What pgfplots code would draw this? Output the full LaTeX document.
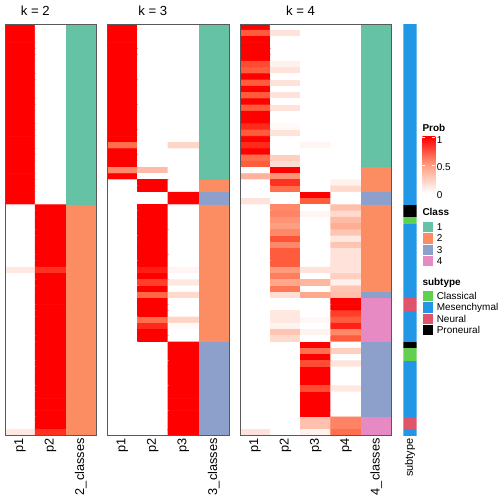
\documentclass[border=0pt]{standalone}
\usepackage{fontspec}
\setmainfont{Liberation Sans}
\usepackage{pgfplots}
\pgfplotsset{compat=1.18}
\definecolor{clsA}{HTML}{66C2A5}
\definecolor{clsB}{HTML}{FC8D62}
\definecolor{clsC}{HTML}{8DA0CB}
\definecolor{clsD}{HTML}{E78AC3}
\definecolor{stCla}{HTML}{61D04F}
\definecolor{stMes}{HTML}{2297E6}
\definecolor{stNeu}{HTML}{DF536B}
\definecolor{stPro}{HTML}{000000}
\definecolor{probmid}{RGB}{255,158,129}
\pgfplotsset{
  hm/.style={
    scale only axis, anchor=north west,
    height=411.7bp,
    ymin=-65.5, ymax=0.5, xmin=-0.5,
    axis on top,
    axis line style={draw=black!65, line width=0.75bp},
    ytick=\empty,
    major tick length=0pt,
    xticklabel style={rotate=90, anchor=east, inner sep=2.5bp, font=\fontsize{12.8}{14}\selectfont},
    colormap={wr}{rgb255=(255,255,255) rgb255=(255,207,191) rgb255=(255,158,129) rgb255=(255,104,70) rgb255=(255,0,0)},
    point meta min=0, point meta max=1,
    title style={anchor=south, inner sep=0pt, yshift=2bp, font=\fontsize{13.2}{15}\selectfont},
  },
  seg/.style={draw=none, fill=#1, mark=none, forget plot},
  heatcells/.style={matrix plot*, shader=faceted, faceted color=mapped color, line width=0.9bp, point meta=explicit},
}
\begin{document}
\begin{tikzpicture}
\path[use as bounding box] (0,0) rectangle (504bp,-504bp);

% ---------------- k = 2 ----------------
\begin{axis}[hm, at={(5bp,-24bp)}, width=91bp, xmax=2.5,
  xtick={0,1,2}, xticklabels={p1,p2,2\_classes},
  title={k = 2}, title style={at={(axis description cs:0.3333,1)}}]
\addplot[heatcells, mesh/cols=2] coordinates {
(0,0)[1] (1,0)[0]
(0,-1)[1] (1,-1)[0]
(0,-2)[1] (1,-2)[0]
(0,-3)[1] (1,-3)[0]
(0,-4)[1] (1,-4)[0]
(0,-5)[1] (1,-5)[0]
(0,-6)[1] (1,-6)[0]
(0,-7)[1] (1,-7)[0]
(0,-8)[1] (1,-8)[0]
(0,-9)[1] (1,-9)[0]
(0,-10)[1] (1,-10)[0]
(0,-11)[1] (1,-11)[0]
(0,-12)[1] (1,-12)[0]
(0,-13)[1] (1,-13)[0]
(0,-14)[1] (1,-14)[0]
(0,-15)[1] (1,-15)[0]
(0,-16)[1] (1,-16)[0]
(0,-17)[1] (1,-17)[0]
(0,-18)[1] (1,-18)[0]
(0,-19)[1] (1,-19)[0]
(0,-20)[1] (1,-20)[0]
(0,-21)[1] (1,-21)[0]
(0,-22)[1] (1,-22)[0]
(0,-23)[1] (1,-23)[0]
(0,-24)[1] (1,-24)[0]
(0,-25)[1] (1,-25)[0]
(0,-26)[1] (1,-26)[0]
(0,-27)[1] (1,-27)[0]
(0,-28)[1] (1,-28)[0]
(0,-29)[0] (1,-29)[1]
(0,-30)[0] (1,-30)[1]
(0,-31)[0] (1,-31)[1]
(0,-32)[0] (1,-32)[1]
(0,-33)[0] (1,-33)[1]
(0,-34)[0] (1,-34)[1]
(0,-35)[0] (1,-35)[1]
(0,-36)[0] (1,-36)[1]
(0,-37)[0] (1,-37)[1]
(0,-38)[0] (1,-38)[1]
(0,-39)[0.12] (1,-39)[0.88]
(0,-40)[0] (1,-40)[1]
(0,-41)[0] (1,-41)[1]
(0,-42)[0] (1,-42)[1]
(0,-43)[0] (1,-43)[1]
(0,-44)[0] (1,-44)[1]
(0,-45)[0] (1,-45)[1]
(0,-46)[0] (1,-46)[1]
(0,-47)[0] (1,-47)[1]
(0,-48)[0] (1,-48)[1]
(0,-49)[0] (1,-49)[1]
(0,-50)[0] (1,-50)[1]
(0,-51)[0] (1,-51)[1]
(0,-52)[0] (1,-52)[1]
(0,-53)[0] (1,-53)[1]
(0,-54)[0] (1,-54)[1]
(0,-55)[0] (1,-55)[1]
(0,-56)[0] (1,-56)[1]
(0,-57)[0] (1,-57)[1]
(0,-58)[0] (1,-58)[1]
(0,-59)[0] (1,-59)[1]
(0,-60)[0] (1,-60)[1]
(0,-61)[0] (1,-61)[1]
(0,-62)[0] (1,-62)[1]
(0,-63)[0] (1,-63)[1]
(0,-64)[0] (1,-64)[1]
(0,-65)[0.12] (1,-65)[0.88]
};
\addplot[seg=clsA] coordinates {(1.5,0.5) (2.5,0.5) (2.5,-28.5) (1.5,-28.5)} -- cycle;
\addplot[seg=clsB] coordinates {(1.5,-28.5) (2.5,-28.5) (2.5,-65.5) (1.5,-65.5)} -- cycle;
\end{axis}

% ---------------- k = 3 ----------------
\begin{axis}[hm, at={(107bp,-24bp)}, width=122bp, xmax=3.5,
  xtick={0,1,2,3}, xticklabels={p1,p2,p3,3\_classes},
  title={k = 3}, title style={at={(axis description cs:0.375,1)}}]
\addplot[heatcells, mesh/cols=3] coordinates {
(0,0)[1] (1,0)[0] (2,0)[0]
(0,-1)[1] (1,-1)[0] (2,-1)[0]
(0,-2)[1] (1,-2)[0] (2,-2)[0]
(0,-3)[1] (1,-3)[0] (2,-3)[0]
(0,-4)[1] (1,-4)[0] (2,-4)[0]
(0,-5)[1] (1,-5)[0] (2,-5)[0]
(0,-6)[1] (1,-6)[0] (2,-6)[0]
(0,-7)[1] (1,-7)[0] (2,-7)[0]
(0,-8)[1] (1,-8)[0] (2,-8)[0]
(0,-9)[1] (1,-9)[0] (2,-9)[0]
(0,-10)[1] (1,-10)[0] (2,-10)[0]
(0,-11)[1] (1,-11)[0] (2,-11)[0]
(0,-12)[1] (1,-12)[0] (2,-12)[0]
(0,-13)[1] (1,-13)[0] (2,-13)[0]
(0,-14)[1] (1,-14)[0] (2,-14)[0]
(0,-15)[1] (1,-15)[0] (2,-15)[0]
(0,-16)[1] (1,-16)[0] (2,-16)[0]
(0,-17)[1] (1,-17)[0] (2,-17)[0]
(0,-18)[1] (1,-18)[0] (2,-18)[0]
(0,-19)[0.72] (1,-19)[0] (2,-19)[0.22]
(0,-20)[1] (1,-20)[0] (2,-20)[0]
(0,-21)[1] (1,-21)[0] (2,-21)[0]
(0,-22)[1] (1,-22)[0] (2,-22)[0]
(0,-23)[0.6] (1,-23)[0.35] (2,-23)[0]
(0,-24)[1] (1,-24)[0] (2,-24)[0]
(0,-25)[0] (1,-25)[1] (2,-25)[0]
(0,-26)[0] (1,-26)[1] (2,-26)[0]
(0,-27)[0] (1,-27)[0] (2,-27)[1]
(0,-28)[0] (1,-28)[0] (2,-28)[1]
(0,-29)[0] (1,-29)[1] (2,-29)[0]
(0,-30)[0] (1,-30)[1] (2,-30)[0]
(0,-31)[0] (1,-31)[1] (2,-31)[0]
(0,-32)[0] (1,-32)[1] (2,-32)[0]
(0,-33)[0] (1,-33)[1] (2,-33)[0]
(0,-34)[0] (1,-34)[1] (2,-34)[0]
(0,-35)[0] (1,-35)[1] (2,-35)[0]
(0,-36)[0] (1,-36)[1] (2,-36)[0]
(0,-37)[0] (1,-37)[1] (2,-37)[0]
(0,-38)[0] (1,-38)[1] (2,-38)[0]
(0,-39)[0] (1,-39)[0.93] (2,-39)[0.05]
(0,-40)[0] (1,-40)[1] (2,-40)[0]
(0,-41)[0] (1,-41)[0.85] (2,-41)[0.12]
(0,-42)[0] (1,-42)[1] (2,-42)[0]
(0,-43)[0] (1,-43)[0.75] (2,-43)[0.2]
(0,-44)[0] (1,-44)[1] (2,-44)[0]
(0,-45)[0] (1,-45)[1] (2,-45)[0]
(0,-46)[0] (1,-46)[1] (2,-46)[0]
(0,-47)[0] (1,-47)[0.72] (2,-47)[0.22]
(0,-48)[0] (1,-48)[0.9] (2,-48)[0.03]
(0,-49)[0] (1,-49)[1] (2,-49)[0]
(0,-50)[0] (1,-50)[1] (2,-50)[0]
(0,-51)[0] (1,-51)[0] (2,-51)[1]
(0,-52)[0] (1,-52)[0] (2,-52)[1]
(0,-53)[0] (1,-53)[0] (2,-53)[1]
(0,-54)[0] (1,-54)[0] (2,-54)[1]
(0,-55)[0] (1,-55)[0] (2,-55)[1]
(0,-56)[0] (1,-56)[0] (2,-56)[1]
(0,-57)[0] (1,-57)[0] (2,-57)[1]
(0,-58)[0] (1,-58)[0] (2,-58)[1]
(0,-59)[0] (1,-59)[0] (2,-59)[1]
(0,-60)[0] (1,-60)[0] (2,-60)[1]
(0,-61)[0] (1,-61)[0] (2,-61)[1]
(0,-62)[0] (1,-62)[0] (2,-62)[1]
(0,-63)[0] (1,-63)[0] (2,-63)[1]
(0,-64)[0] (1,-64)[0] (2,-64)[1]
(0,-65)[0] (1,-65)[0] (2,-65)[1]
};
\addplot[seg=clsA] coordinates {(2.5,0.5) (3.5,0.5) (3.5,-24.5) (2.5,-24.5)} -- cycle;
\addplot[seg=clsB] coordinates {(2.5,-24.5) (3.5,-24.5) (3.5,-26.5) (2.5,-26.5)} -- cycle;
\addplot[seg=clsC] coordinates {(2.5,-26.5) (3.5,-26.5) (3.5,-28.5) (2.5,-28.5)} -- cycle;
\addplot[seg=clsB] coordinates {(2.5,-28.5) (3.5,-28.5) (3.5,-50.5) (2.5,-50.5)} -- cycle;
\addplot[seg=clsC] coordinates {(2.5,-50.5) (3.5,-50.5) (3.5,-65.5) (2.5,-65.5)} -- cycle;
\end{axis}

% ---------------- k = 4 ----------------
\begin{axis}[hm, at={(240bp,-24bp)}, width=151.5bp, xmax=4.5,
  xtick={0,1,2,3,4}, xticklabels={p1,p2,p3,p4,4\_classes},
  title={k = 4}, title style={at={(axis description cs:0.4,1)}}]
\addplot[heatcells, mesh/cols=4] coordinates {
(0,0)[1] (1,0)[0] (2,0)[0] (3,0)[0]
(0,-1)[0.78] (1,-1)[0.15] (2,-1)[0] (3,-1)[0]
(0,-2)[1] (1,-2)[0] (2,-2)[0] (3,-2)[0]
(0,-3)[1] (1,-3)[0] (2,-3)[0] (3,-3)[0]
(0,-4)[1] (1,-4)[0] (2,-4)[0] (3,-4)[0]
(0,-5)[1] (1,-5)[0] (2,-5)[0] (3,-5)[0]
(0,-6)[0.82] (1,-6)[0.07] (2,-6)[0] (3,-6)[0]
(0,-7)[0.78] (1,-7)[0.15] (2,-7)[0] (3,-7)[0]
(0,-8)[1] (1,-8)[0] (2,-8)[0] (3,-8)[0]
(0,-9)[0.78] (1,-9)[0.15] (2,-9)[0] (3,-9)[0]
(0,-10)[1] (1,-10)[0] (2,-10)[0] (3,-10)[0]
(0,-11)[0.78] (1,-11)[0.15] (2,-11)[0] (3,-11)[0]
(0,-12)[1] (1,-12)[0] (2,-12)[0] (3,-12)[0]
(0,-13)[0.78] (1,-13)[0.15] (2,-13)[0] (3,-13)[0]
(0,-14)[1] (1,-14)[0] (2,-14)[0] (3,-14)[0]
(0,-15)[1] (1,-15)[0] (2,-15)[0] (3,-15)[0]
(0,-16)[0.9] (1,-16)[0.03] (2,-16)[0] (3,-16)[0]
(0,-17)[0.78] (1,-17)[0.15] (2,-17)[0] (3,-17)[0]
(0,-18)[1] (1,-18)[0] (2,-18)[0] (3,-18)[0]
(0,-19)[0.9] (1,-19)[0] (2,-19)[0.05] (3,-19)[0]
(0,-20)[1] (1,-20)[0] (2,-20)[0] (3,-20)[0]
(0,-21)[0.72] (1,-21)[0.25] (2,-21)[0] (3,-21)[0]
(0,-22)[0.78] (1,-22)[0.18] (2,-22)[0] (3,-22)[0]
(0,-23)[0] (1,-23)[1] (2,-23)[0] (3,-23)[0]
(0,-24)[0.4] (1,-24)[0.55] (2,-24)[0] (3,-24)[0]
(0,-25)[0] (1,-25)[0.88] (2,-25)[0] (3,-25)[0.07]
(0,-26)[0] (1,-26)[0.72] (2,-26)[0] (3,-26)[0.2]
(0,-27)[0] (1,-27)[0] (2,-27)[1] (3,-27)[0]
(0,-28)[0.15] (1,-28)[0] (2,-28)[0.78] (3,-28)[0]
(0,-29)[0] (1,-29)[0.6] (2,-29)[0] (3,-29)[0.33]
(0,-30)[0] (1,-30)[0.62] (2,-30)[0.05] (3,-30)[0.2]
(0,-31)[0] (1,-31)[0.55] (2,-31)[0] (3,-31)[0.35]
(0,-32)[0] (1,-32)[0.5] (2,-32)[0] (3,-32)[0.42]
(0,-33)[0] (1,-33)[0.6] (2,-33)[0] (3,-33)[0.3]
(0,-34)[0] (1,-34)[0.8] (2,-34)[0] (3,-34)[0.12]
(0,-35)[0] (1,-35)[0.6] (2,-35)[0] (3,-35)[0.3]
(0,-36)[0] (1,-36)[0.78] (2,-36)[0] (3,-36)[0.15]
(0,-37)[0] (1,-37)[0.78] (2,-37)[0] (3,-37)[0.15]
(0,-38)[0] (1,-38)[0.78] (2,-38)[0] (3,-38)[0.15]
(0,-39)[0] (1,-39)[0.52] (2,-39)[0.15] (3,-39)[0.15]
(0,-40)[0] (1,-40)[0.65] (2,-40)[0] (3,-40)[0.25]
(0,-41)[0] (1,-41)[0.45] (2,-41)[0.38] (3,-41)[0.08]
(0,-42)[0] (1,-42)[0.68] (2,-42)[0] (3,-42)[0.3]
(0,-43)[0] (1,-43)[0.17] (2,-43)[0.45] (3,-43)[0.33]
(0,-44)[0] (1,-44)[0] (2,-44)[0] (3,-44)[1]
(0,-45)[0] (1,-45)[0] (2,-45)[0] (3,-45)[1]
(0,-46)[0] (1,-46)[0.12] (2,-46)[0] (3,-46)[0.85]
(0,-47)[0] (1,-47)[0.12] (2,-47)[0.04] (3,-47)[0.78]
(0,-48)[0] (1,-48)[0.06] (2,-48)[0] (3,-48)[0.92]
(0,-49)[0] (1,-49)[0.3] (2,-49)[0.06] (3,-49)[0.6]
(0,-50)[0] (1,-50)[0.2] (2,-50)[0] (3,-50)[0.78]
(0,-51)[0] (1,-51)[0] (2,-51)[1] (3,-51)[0]
(0,-52)[0] (1,-52)[0] (2,-52)[0.72] (3,-52)[0.25]
(0,-53)[0] (1,-53)[0] (2,-53)[1] (3,-53)[0]
(0,-54)[0] (1,-54)[0] (2,-54)[0.82] (3,-54)[0.14]
(0,-55)[0] (1,-55)[0] (2,-55)[1] (3,-55)[0]
(0,-56)[0] (1,-56)[0] (2,-56)[1] (3,-56)[0]
(0,-57)[0] (1,-57)[0] (2,-57)[1] (3,-57)[0]
(0,-58)[0] (1,-58)[0] (2,-58)[0.82] (3,-58)[0.12]
(0,-59)[0] (1,-59)[0] (2,-59)[1] (3,-59)[0]
(0,-60)[0] (1,-60)[0] (2,-60)[1] (3,-60)[0]
(0,-61)[0] (1,-61)[0] (2,-61)[1] (3,-61)[0]
(0,-62)[0] (1,-62)[0] (2,-62)[1] (3,-62)[0]
(0,-63)[0] (1,-63)[0] (2,-63)[0.32] (3,-63)[0.62]
(0,-64)[0] (1,-64)[0] (2,-64)[0.32] (3,-64)[0.62]
(0,-65)[0.15] (1,-65)[0] (2,-65)[0.07] (3,-65)[0.72]
};
\addplot[seg=clsA] coordinates {(3.5,0.5) (4.5,0.5) (4.5,-22.5) (3.5,-22.5)} -- cycle;
\addplot[seg=clsB] coordinates {(3.5,-22.5) (4.5,-22.5) (4.5,-26.5) (3.5,-26.5)} -- cycle;
\addplot[seg=clsC] coordinates {(3.5,-26.5) (4.5,-26.5) (4.5,-28.5) (3.5,-28.5)} -- cycle;
\addplot[seg=clsB] coordinates {(3.5,-28.5) (4.5,-28.5) (4.5,-42.5) (3.5,-42.5)} -- cycle;
\addplot[seg=clsC] coordinates {(3.5,-42.5) (4.5,-42.5) (4.5,-43.5) (3.5,-43.5)} -- cycle;
\addplot[seg=clsD] coordinates {(3.5,-43.5) (4.5,-43.5) (4.5,-50.5) (3.5,-50.5)} -- cycle;
\addplot[seg=clsC] coordinates {(3.5,-50.5) (4.5,-50.5) (4.5,-62.5) (3.5,-62.5)} -- cycle;
\addplot[seg=clsD] coordinates {(3.5,-62.5) (4.5,-62.5) (4.5,-65.5) (3.5,-65.5)} -- cycle;
\end{axis}

% ---------------- subtype ----------------
\begin{axis}[hm, at={(403.3bp,-24bp)}, width=13.4bp, xmax=0.5,
  axis line style={draw=none},
  xtick={0}, xticklabels={subtype},
  xticklabel style={font=\fontsize{11}{13}\selectfont}]
\addplot[seg=stMes] coordinates {(-0.5,0.5) (0.5,0.5) (0.5,-28.5) (-0.5,-28.5)} -- cycle;
\addplot[seg=stPro] coordinates {(-0.5,-28.5) (0.5,-28.5) (0.5,-30.5) (-0.5,-30.5)} -- cycle;
\addplot[seg=stCla] coordinates {(-0.5,-30.5) (0.5,-30.5) (0.5,-31.5) (-0.5,-31.5)} -- cycle;
\addplot[seg=stMes] coordinates {(-0.5,-31.5) (0.5,-31.5) (0.5,-43.5) (-0.5,-43.5)} -- cycle;
\addplot[seg=stNeu] coordinates {(-0.5,-43.5) (0.5,-43.5) (0.5,-45.5) (-0.5,-45.5)} -- cycle;
\addplot[seg=stMes] coordinates {(-0.5,-45.5) (0.5,-45.5) (0.5,-50.5) (-0.5,-50.5)} -- cycle;
\addplot[seg=stPro] coordinates {(-0.5,-50.5) (0.5,-50.5) (0.5,-51.5) (-0.5,-51.5)} -- cycle;
\addplot[seg=stCla] coordinates {(-0.5,-51.5) (0.5,-51.5) (0.5,-53.5) (-0.5,-53.5)} -- cycle;
\addplot[seg=stMes] coordinates {(-0.5,-53.5) (0.5,-53.5) (0.5,-62.5) (-0.5,-62.5)} -- cycle;
\addplot[seg=stNeu] coordinates {(-0.5,-62.5) (0.5,-62.5) (0.5,-64.5) (-0.5,-64.5)} -- cycle;
\addplot[seg=stMes] coordinates {(-0.5,-64.5) (0.5,-64.5) (0.5,-65.5) (-0.5,-65.5)} -- cycle;
\end{axis}

% ---------------- legends ----------------
\begin{scope}[every node/.style={inner sep=0pt, font=\fontsize{10}{12}\selectfont}]
\node[anchor=base west, font=\fontsize{10}{12}\selectfont\bfseries] at (422.3bp,-131.7bp) {Prob};
\shade[bottom color=white, top color=red, middle color=probmid] (422.3bp,-136.7bp) rectangle (435.3bp,-193.3bp);
\draw[white, line width=0.7bp] (422.3bp,-165bp) -- ++(3bp,0) (435.3bp,-165bp) -- ++(-3bp,0);
\draw[white, line width=0.7bp] (422.3bp,-137.6bp) -- ++(3bp,0) (435.3bp,-137.6bp) -- ++(-3bp,0);
\node[anchor=west] at (436.6bp,-140bp) {1};
\node[anchor=west] at (436.6bp,-167.2bp) {0.5};
\node[anchor=west] at (436.6bp,-195bp) {0};

\node[anchor=base west, font=\fontsize{10}{12}\selectfont\bfseries] at (422.3bp,-215.3bp) {Class};
\foreach \c/\l [count=\i from 0] in {clsA/1, clsB/2, clsC/3, clsD/4} {
  \pgfmathsetmacro{\t}{221.3+11.34*\i}
  \fill[\c, draw=white, line width=0.8bp] (422.3bp,-\t bp) rectangle (433.6bp,-\t bp-11.34bp);
  \node[anchor=west] at (436.6bp,-\t bp-5.8bp) {\l};
}

\node[anchor=base west, font=\fontsize{10}{12}\selectfont\bfseries] at (422.3bp,-285.6bp) {subtype};
\foreach \c/\l [count=\i from 0] in {stCla/Classical, stMes/Mesenchymal, stNeu/Neural, stPro/Proneural} {
  \pgfmathsetmacro{\t}{290.4+11.34*\i}
  \fill[\c, draw=white, line width=0.8bp] (422.3bp,-\t bp) rectangle (433.6bp,-\t bp-11.34bp);
  \node[anchor=west] at (436.6bp,-\t bp-5.8bp) {\l};
}
\end{scope}
\end{tikzpicture}
\end{document}
